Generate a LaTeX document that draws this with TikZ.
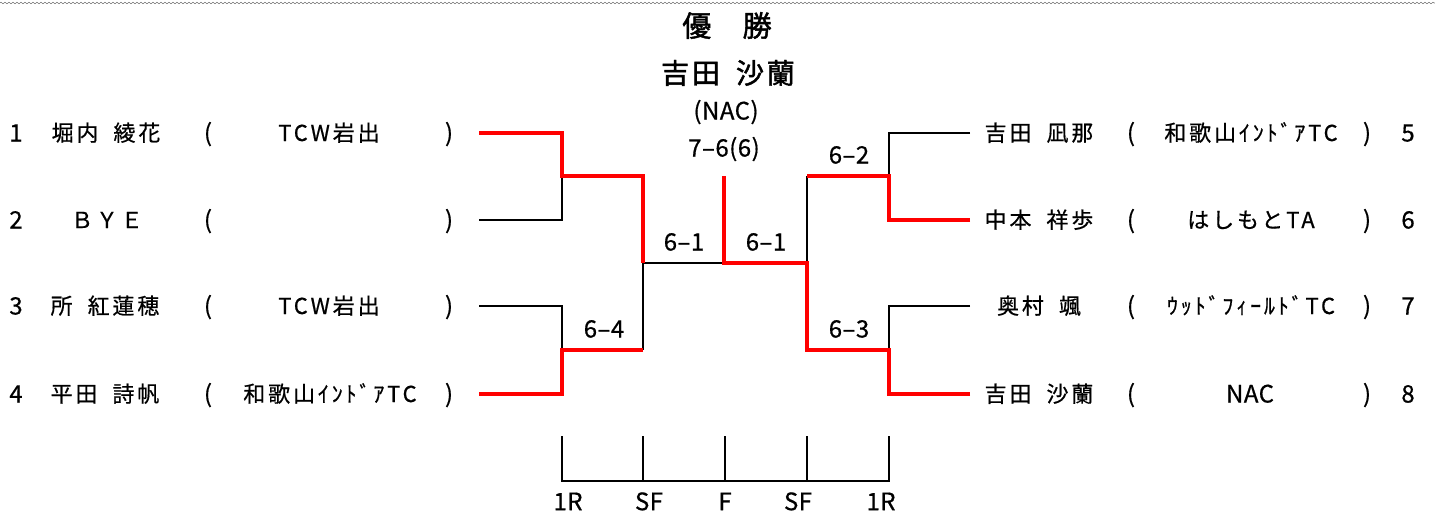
\documentclass[tikz,border=0pt]{standalone}
\usepackage{fontspec}
\setmainfont{Noto Sans CJK JP}
\usepackage{xcolor}
\usepackage{tikz}
\definecolor{winred}{RGB}{255, 0, 0}
\usetikzlibrary{positioning, decorations.pathmorphing}
\newcommand{\nsp}{\hspace{15pt}}

\begin{document}
\begin{tikzpicture}[
        x=1pt, y=-1pt,
        entry/.style={inner sep=0pt, text height=16pt, text depth=0pt, font=\fontsize{22}{22}\selectfont\addfontfeature{LetterSpace=13, FakeBold=0.6}},
        latin/.style={inner sep=0pt, text height=17pt, text depth=0pt, font=\fontsize{24}{24}\selectfont\addfontfeature{LetterSpace=2, FakeBold=0.6}},
        headline/.style={inner sep=0pt, text height=21pt, text depth=0pt, font=\fontsize{28}{28}\selectfont\addfontfeature{LetterSpace=10, FakeBold=1.6}},
        loss/.style={draw=black, line width=2pt},
        win/.style={draw=winred, line width=4.5pt}
    ]
        \useasboundingbox (0,0) rectangle (1435,511);
        \draw[gray, line width=0.6pt, decorate, decoration={zigzag, segment length=4pt, amplitude=0.8pt}] (0,3) -- (1435,3);

        % champion
        \node[headline, font=\fontsize{29}{29}\selectfont\addfontfeature{LetterSpace=4, FakeBold=1.6}] (yusho) at (727,26) {優　勝};
        \node[headline] (champ) at (728,73) {吉田\hspace{16pt}沙蘭};
        \node[latin] (champclub) at (726,111) {(NAC)};
        \node[latin] (finscore) at (724,148) {7–6(6)};

        % left half
        \node[latin] (no1) at (16,133) {1};
        \node[entry] (name1) at (106,133) {堀内\nsp 綾花};
        \node[latin] (lp1) at (208,133) {(};
        \node[entry] (club1) at (329,133) {TCW岩出};
        \node[latin] (rp1) at (449,133) {)};

        \node[latin] (no2) at (16,220) {2};
        \node[entry] (name2) at (107,220) {ＢＹＥ};
        \node[latin] (lp2) at (208,220) {(};
        \node[latin] (rp2) at (449,220) {)};

        \node[latin] (no3) at (16,306) {3};
        \node[entry] (name3) at (105,306) {所\nsp 紅蓮穂};
        \node[latin] (lp3) at (208,306) {(};
        \node[entry] (club3) at (329,306) {TCW岩出};
        \node[latin] (rp3) at (449,306) {)};

        \node[latin] (no4) at (16,394) {4};
        \node[entry] (name4) at (105,394) {平田\nsp 詩帆};
        \node[latin] (lp4) at (208,394) {(};
        \node[entry] (club4) at (330,394) {和歌山ｲﾝﾄﾞｱTC};
        \node[latin] (rp4) at (449,394) {)};

        % right half
        \node[entry] (name5) at (1039,133) {吉田\nsp 凪那};
        \node[latin] (lp5) at (1131,133) {(};
        \node[entry] (club5) at (1251,133) {和歌山ｲﾝﾄﾞｱTC};
        \node[latin] (rp5) at (1367,133) {)};
        \node[latin] (no5) at (1408,133) {5};

        \node[entry] (name6) at (1039,220) {中本\nsp 祥歩};
        \node[latin] (lp6) at (1131,220) {(};
        \node[entry] (club6) at (1251,220) {はしもとTA};
        \node[latin] (rp6) at (1367,220) {)};
        \node[latin] (no6) at (1408,220) {6};

        \node[entry] (name7) at (1039,306) {奥村\nsp 颯};
        \node[latin] (lp7) at (1131,306) {(};
        \node[entry] (club7) at (1251,306) {ｳｯﾄﾞﾌｨｰﾙﾄﾞTC};
        \node[latin] (rp7) at (1367,306) {)};
        \node[latin] (no7) at (1408,306) {7};

        \node[entry] (name8) at (1039,394) {吉田\nsp 沙蘭};
        \node[latin] (lp8) at (1131,394) {(};
        \node[latin] (club8) at (1250,394) {NAC};
        \node[latin] (rp8) at (1367,394) {)};
        \node[latin] (no8) at (1408,394) {8};

        % bracket points
        \coordinate (e1) at (479,133);
        \coordinate (e2) at (479,220);
        \coordinate (e3) at (479,306);
        \coordinate (e4) at (479,394);
        \coordinate (e5) at (970,133);
        \coordinate (e6) at (970,220);
        \coordinate (e7) at (970,306);
        \coordinate (e8) at (970,394);
        \coordinate (m12) at (562,176);
        \coordinate (m34) at (562,350);
        \coordinate (sfL) at (643,263);
        \coordinate (fin) at (724,263);
        \coordinate (top) at (724,176);
        \coordinate (sfR) at (807,263);
        \coordinate (m56) at (889,176);
        \coordinate (m78) at (889,350);

        \draw[loss] (e2) -| (m12);
        \draw[loss] (e3) -| (m34);
        \draw[loss] (sfL) -- (sfL |- m34);
        \draw[loss] (sfL) -- (fin);
        \draw[loss] (e5) -| (m56);
        \draw[loss] (e7) -| (m78);
        \draw[loss] (sfR) -- (sfR |- m56);

        \draw[win] (e1) -| (m12) -| (sfL);
        \draw[win] (e4) -| (m34) -- (m34 -| sfL);
        \draw[win] (e6) -| (m56) -- (m56 -| sfR);
        \draw[win] (e8) -| (m78) -| (sfR) -| (top);

        % scores
        \node[latin] (sc34) at (604,329) {6–4};
        \node[latin] (scL) at (684,242) {6–1};
        \node[latin] (scR) at (766,242) {6–1};
        \node[latin] (sc56) at (849,155) {6–2};
        \node[latin] (sc78) at (849,329) {6–3};

        % round scale
        \coordinate (t1) at (562,481);
        \coordinate (t2) at (643,481);
        \coordinate (t3) at (725,481);
        \coordinate (t4) at (807,481);
        \coordinate (t5) at (889,481);
        \draw[loss, line cap=rect] (t1) -- (t5);
        \foreach \t in {t1,t2,t3,t4,t5}
            \draw[loss, line cap=rect] (\t) -- ++(0,-44);
        \node[latin, below=12pt of t1, xshift=6pt] (r1) {1R};
        \node[latin, below=12pt of t2, xshift=6pt] (r2) {SF};
        \node[latin, below=12pt of t3, xshift=0pt] (r3) {F};
        \node[latin, below=12pt of t4, xshift=-9pt] (r4) {SF};
        \node[latin, below=12pt of t5, xshift=-8pt] (r5) {1R};
    \end{tikzpicture}
\end{document}
